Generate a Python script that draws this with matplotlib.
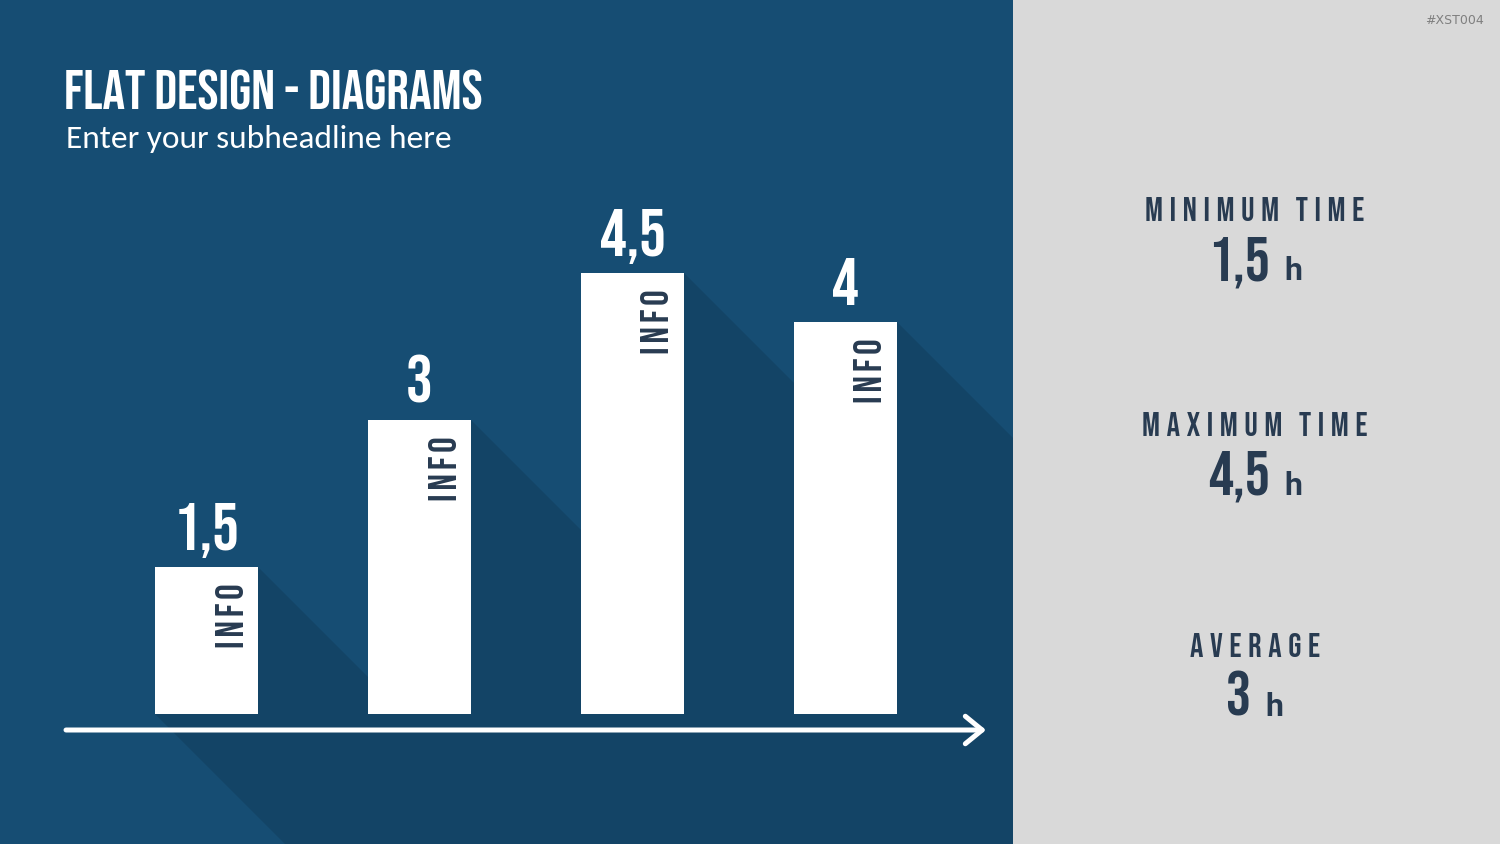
import matplotlib
matplotlib.use("Agg")
import matplotlib.pyplot as plt
from matplotlib.patches import Rectangle, Polygon

# ---------------- data ----------------
categories = ["A", "B", "C", "D"]
values = [1.5, 3.0, 4.5, 4.0]
value_labels = ["1,5", "3", "4,5", "4"]
bar_text = "INFO"
stat_titles = ["MINIMUM TIME", "MAXIMUM TIME", "AVERAGE"]
stat_values = ["1,5", "4,5", "3"]
stat_unit = "h"
title = "FLAT DESIGN - DIAGRAMS"
subtitle = "Enter your subheadline here"
tag = "#XST004"

# ---------------- style ----------------
BLUE = "#164d73"
SHADOW = "#134466"
GRAY = "#d9d9d9"
DARK = "#283b51"
COND = ["Bebas Neue", "Oswald", "DejaVu Sans"]
UNIT = ["Roboto", "DejaVu Sans"]
BODY = ["Carlito", "Lato", "DejaVu Sans"]
W, H = 1500, 844
PANEL_W = 1013

fig = plt.figure(figsize=(15, 8.44), dpi=100)
fig.patch.set_facecolor(GRAY)

bg = fig.add_axes([0, 0, 1, 1])
bg.set_xlim(0, W)
bg.set_ylim(H, 0)
bg.axis("off")
bg.add_patch(Rectangle((0, 0), PANEL_W, H, facecolor=BLUE, edgecolor="none", zorder=0))

# ---------------- chart axes ----------------
ax = fig.add_axes([0, 0, PANEL_W / W, 1])
ax.patch.set_visible(False)
ax.axis("off")
x = list(range(len(values)))
x_lo, x_hi = -0.9695, 3.7864
y_lo, y_hi = -1.3265, 7.2857
ax.set_xlim(x_lo, x_hi)
ax.set_ylim(y_lo, y_hi)
sx = PANEL_W / (x_hi - x_lo)  # px per x unit
sy = H / (y_hi - y_lo)        # px per y unit
bw = 103 / sx

# long shadows at 45 degrees
L = 1200
for xi, v in zip(x, values):
    x0, x1 = xi - bw / 2, xi + bw / 2
    poly = Polygon([(x0, 0), (x0, v), (x1, v),
                    (x1 + L / sx, v - L / sy), (x0 + L / sx, -L / sy)],
                   closed=True, facecolor=SHADOW, edgecolor="none", zorder=1)
    ax.add_patch(poly)

ax.bar(x, values, width=bw, color="white", edgecolor="none", zorder=3)

# arrow axis
ay = -16 / sy
ax.annotate("", xy=(3.66, ay), xytext=(-0.6596, ay),
            arrowprops=dict(arrowstyle="->,head_length=0.55,head_width=0.45",
                            color="white", lw=3.6, mutation_scale=22,
                            shrinkA=0, shrinkB=0),
            zorder=4)

for xi, v, lab in zip(x, values, value_labels):
    ax.annotate(lab, xy=(xi, v), xytext=(0, 12.5), textcoords="offset points",
                ha="center", va="baseline", color="white", fontsize=48,
                family=COND, zorder=5)
    ax.text(xi + 23 / sx, v - 16 / sy, "\u200a".join(bar_text), rotation=90,
            ha="center", va="top", color=DARK, fontsize=28,
            family=COND, zorder=5)

# ---------------- titles ----------------
bg.text(64, 110, title, color="white", fontsize=40.5, family=COND,
        ha="left", va="baseline")
bg.text(66, 148, subtitle, color="white", fontsize=24, family=BODY,
        ha="left", va="baseline")
bg.text(1484, 24, tag, color="#7f7f7f", fontsize=9, family="DejaVu Sans",
        ha="right", va="baseline")

# ---------------- right stats ----------------
renderer = fig.canvas.get_renderer()
title_y = [221, 436, 657]
value_y = [280, 495, 716]
cx = 1255
for t, sv, ty, vy in zip(stat_titles, stat_values, title_y, value_y):
    spaced = "\u2009\u2009\u200a".join("\u2009".join(w) for w in t.split(" "))
    bg.text(cx, ty, spaced, color=DARK, fontsize=24, family=COND,
            ha="center", va="baseline")
    tn = bg.text(0, vy, sv, color=DARK, fontsize=45, family=COND,
                 ha="left", va="baseline")
    tu = bg.text(0, vy, stat_unit, color=DARK, fontsize=23, family=UNIT,
                 fontweight="bold", ha="left", va="baseline")
    wn = tn.get_window_extent(renderer).width
    wu = tu.get_window_extent(renderer).width
    gap = 14
    start = cx - (wn + gap + wu) / 2
    tn.set_x(start)
    tu.set_x(start + wn + gap)

fig.savefig("out.png", dpi=100, facecolor=fig.get_facecolor())
